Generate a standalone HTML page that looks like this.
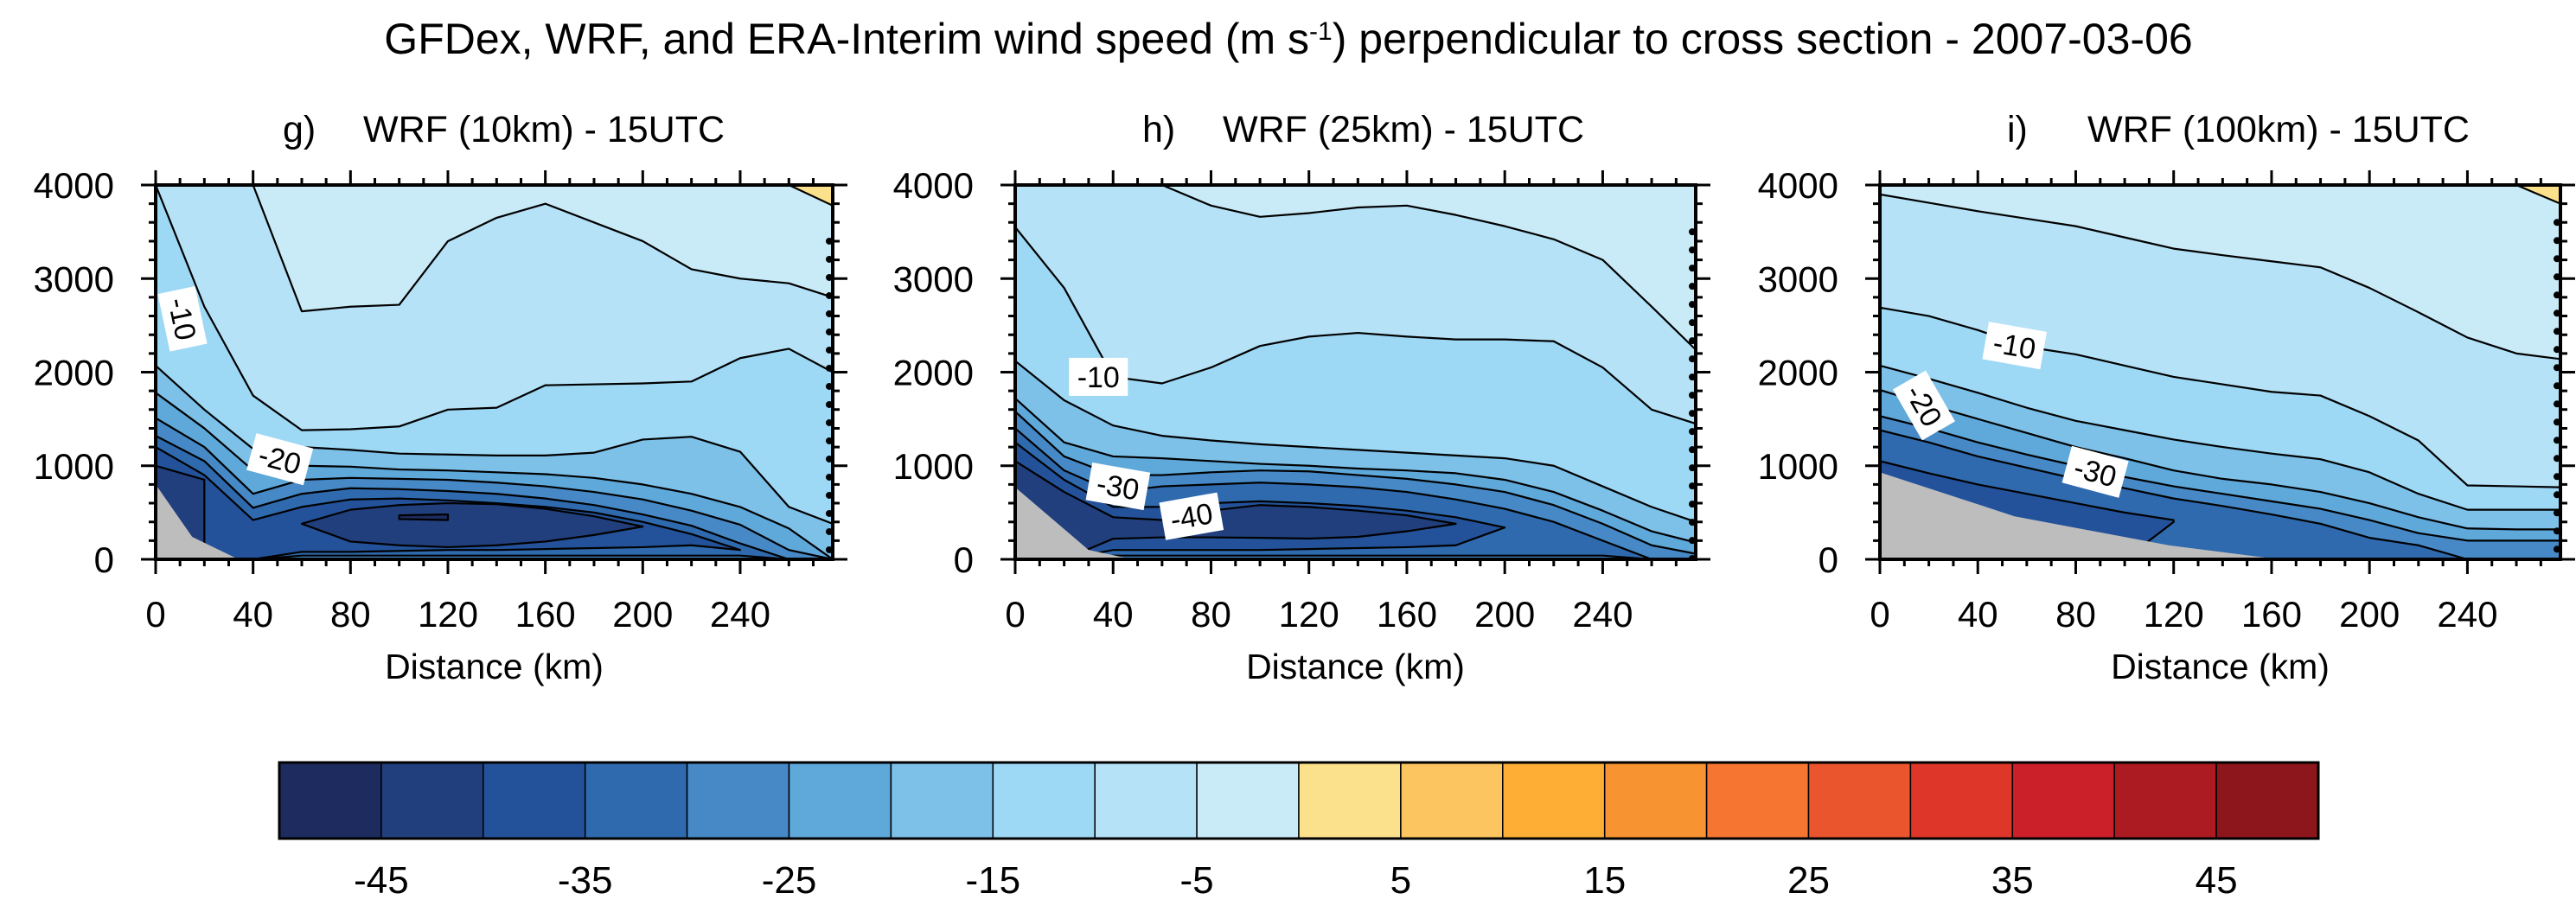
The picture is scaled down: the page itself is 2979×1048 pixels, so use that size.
<!DOCTYPE html>
<html><head><meta charset="utf-8">
<style>
html,body{margin:0;padding:0;background:#fff;}
svg{display:block;font-family:"Liberation Sans",Arial,sans-serif;}
</style></head>
<body>
<svg id="fig" width="2979" height="1048" viewBox="0 0 2979 1048" xmlns="http://www.w3.org/2000/svg">
<text x="1490" y="62" font-size="50" text-anchor="middle">GFDex, WRF, and ERA-Interim wind speed (m s<tspan baseline-shift="super" font-size="30">-1</tspan>) perpendicular to cross section - 2007-03-06</text>
<g id="panels"></g>
<g id="colorbar"></g>
</svg>
<script>
const xs=[0,20,40,60,80,100,120,140,160,180,200,220,240,260,280];
const binColors=['#1d2b5f','#213f7d','#23529a','#2f6aae','#4689c6','#5ea8da','#7dc0e8','#9dd8f5','#b5e2f7','#c9ebf7','#fce18c','#fdc55f','#feae35','#f89331','#f57531','#ea552d','#de3629','#cb1f2a','#ad1b22','#8c161b'];
const cbLabels=[-45,-35,-25,-15,-5,5,15,25,35,45];
const xTicks=[0,40,80,120,160,200,240];
const yTicks=[0,1000,2000,3000,4000];

// panel g (WRF 10km)
const g_m5_up=[4000,4000,4000,2650,2700,2720,3400,3650,3800,3600,3400,3100,3000,2950,2800];
const g_m10_up=[4000,2700,1750,1380,1390,1420,1600,1620,1860,1870,1880,1900,2150,2250,2000];
const g_m15_up=[2070,1600,1180,1200,1170,1130,1120,1110,1110,1140,1280,1310,1150,560,380];
const g_m20_up=[1780,1400,950,1000,990,960,950,930,910,870,800,700,560,330,0];
const g_m25_up=[1510,1200,700,850,870,860,850,820,780,720,640,520,370,100,0];
const g_m30_up=[1320,1050,550,700,760,750,730,700,650,580,480,360,170,0,0];
const g_m30_lo=[0,0,0,40,40,40,40,40,40,40,40,40,40,0,0];
const g_m35_up=[1200,900,420,560,640,650,630,600,560,500,400,270,100,null,null];
const g_m35_lo=[0,0,0,80,80,90,100,100,110,120,130,150,100,null,null];
const g_m40_up=[1000,850,null,380,530,580,600,590,540,460,350,null,null,null,null];
const g_m40_lo=[0,0,null,380,190,150,130,150,190,260,350,null,null,null,null];
const g_m45_up=[null,null,null,null,null,470,480,null,null,null,null,null,null,null,null];
const g_m45_lo=[null,null,null,null,null,430,420,null,null,null,null,null,null,null,null];
const g_p0_up=[null,null,null,null,null,null,null,null,null,null,null,null,null,4000,4000];
const g_p0_lo=[null,null,null,null,null,null,null,null,null,null,null,null,null,4000,3780];
const g_terr_x=[0,15,34];
const g_terr_h=[800,240,0];

// panel h (WRF 25km)
const h_m5_up=[4000,4000,4000,4000,3780,3660,3700,3760,3780,3680,3560,3420,3200,2700,2240];
const h_m10_up=[3550,2900,1950,1880,2050,2280,2380,2420,2380,2350,2350,2330,2050,1600,1450];
const h_m15_up=[2120,1700,1430,1320,1270,1230,1200,1170,1140,1110,1080,1000,780,560,400];
const h_m20_up=[1720,1250,1100,1080,1050,1020,1000,970,950,920,850,720,520,300,180];
const h_m25_up=[1580,1100,900,900,930,950,940,900,860,800,720,580,380,150,60];
const h_m30_up=[1400,950,720,780,800,820,800,770,720,640,540,400,200,0,0];
const h_m30_lo=[0,0,40,40,40,40,40,40,40,40,40,40,40,0,0];
const h_m35_up=[1250,850,560,560,600,620,600,570,520,450,340,null,null,null,null];
const h_m35_lo=[0,0,100,100,100,100,110,120,130,150,340,null,null,null,null];
const h_m40_up=[1050,720,450,420,520,580,560,520,470,380,null,null,null,null,null];
const h_m40_lo=[0,0,220,235,235,230,222,240,300,380,null,null,null,null,null];
const h_terr_x=[0,30,48];
const h_terr_h=[770,100,0];

// panel i (WRF 100km)
const i_m5_up=[3900,3810,3720,3640,3560,3440,3320,3250,3185,3120,2900,2640,2370,2200,2140];
const i_m10_up=[2690,2600,2450,2270,2190,2070,1950,1870,1790,1750,1530,1270,790,780,770];
const i_m15_up=[2070,1930,1780,1620,1480,1380,1280,1200,1130,1070,930,700,530,530,530];
const i_m20_up=[1810,1650,1500,1350,1200,1080,950,860,800,720,600,450,330,320,320];
const i_m25_up=[1530,1400,1250,1120,1000,880,780,700,620,540,420,280,200,200,200];
const i_m30_up=[1380,1250,1100,980,860,760,650,570,480,380,230,150,0,0,0];
const i_m35_up=[1050,920,800,700,600,500,420,null,null,null,null,null,null,null,null];
const i_m35_lo=[0,0,0,0,0,0,400,null,null,null,null,null,null,null,null];
const i_p0_up=[null,null,null,null,null,null,null,null,null,null,null,null,null,4000,4000];
const i_p0_lo=[null,null,null,null,null,null,null,null,null,null,null,null,null,4000,3800];
const i_terr_x=[0,55,118,154,163];
const i_terr_h=[930,460,150,30,0];

const NS='http://www.w3.org/2000/svg';
const TOP=214,BOT=647,XMAX=278,YMAX=4000;
const panels=[
 {id:'g',letter:'g)',title:'WRF (10km) - 15UTC',left:180,right:963,dotTop:3400,
  levels:[[-5,g_m5_up,null],[-10,g_m10_up,null],[-15,g_m15_up,null],[-20,g_m20_up,null],[-25,g_m25_up,null],[-30,g_m30_up,g_m30_lo],[-35,g_m35_up,g_m35_lo],[-40,g_m40_up,g_m40_lo],[-45,g_m45_up,g_m45_lo],[5,g_p0_up,g_p0_lo]],
  terrX:g_terr_x,terrH:g_terr_h,
  labels:[['-10',11,2570,78],['-20',51,1070,15]]},
 {id:'h',letter:'h)',title:'WRF (25km) - 15UTC',left:1174,right:1961,dotTop:3500,
  levels:[[-5,h_m5_up,null],[-10,h_m10_up,null],[-15,h_m15_up,null],[-20,h_m20_up,null],[-25,h_m25_up,null],[-30,h_m30_up,h_m30_lo],[-35,h_m35_up,h_m35_lo],[-40,h_m40_up,h_m40_lo]],
  terrX:h_terr_x,terrH:h_terr_h,
  labels:[['-10',34,1950,0],['-30',42,780,10],['-40',72,460,-10]]},
 {id:'i',letter:'i)',title:'WRF (100km) - 15UTC',left:2174,right:2961,dotTop:3600,
  levels:[[-5,i_m5_up,null],[-10,i_m10_up,null],[-15,i_m15_up,null],[-20,i_m20_up,null],[-25,i_m25_up,null],[-30,i_m30_up,null],[-35,i_m35_up,i_m35_lo],[5,i_p0_up,i_p0_lo]],
  terrX:i_terr_x,terrH:i_terr_h,
  labels:[['-10',55,2285,10],['-20',18,1645,60],['-30',88,935,15]]}
];
function el(tag,attrs,parent){const e=document.createElementNS(NS,tag);for(const k in attrs)e.setAttribute(k,attrs[k]);if(parent)parent.appendChild(e);return e;}
function colorFor(level){const idx=level>0?10:(level-5+50)/5;return binColors[idx];}

const root=document.getElementById('panels');
panels.forEach(p=>{
  const W=p.right-p.left,H=BOT-TOP;
  const sx=km=>p.left+Math.min(km,XMAX)/XMAX*W;
  const sy=m=>BOT-m/YMAX*H;
  const g=el('g',{},root);
  
  
  const cid='clip-'+p.id;
  const defs=el('defs',{},g);
  const cp=el('clipPath',{id:cid},defs);
  el('rect',{x:p.left,y:TOP,width:W,height:H},cp);
  const plot=el('g',{'clip-path':'url(#'+cid+')'},g);
  const bg=el('rect',{x:p.left,y:TOP,width:W,height:H,fill:binColors[9]},plot);
  
  
  p.levels.forEach(([lev,up,lo])=>{
    let seg=[];
    const segs=[];
    for(let i=0;i<xs.length;i++){
      if(up[i]===null||up[i]===undefined){if(seg.length)segs.push(seg);seg=[];}
      else seg.push(i);
    }
    if(seg.length)segs.push(seg);
    segs.forEach(s=>{
      const pts=[];
      s.forEach(i=>pts.push(sx(xs[i])+','+sy(up[i])));
      for(let k=s.length-1;k>=0;k--){const i=s[k];pts.push(sx(xs[i])+','+sy(lo?lo[i]:0));}
      const poly=el('polygon',{points:pts.join(' '),fill:colorFor(lev),stroke:'#000','stroke-width':2.2,'stroke-linejoin':'round'},plot);
      
      
    });
  });
  const tp=p.terrX.map((x,i)=>sx(x)+','+sy(p.terrH[i]));
  tp.push(sx(p.terrX[p.terrX.length-1])+','+BOT,sx(0)+','+BOT);
  const terr=el('polygon',{points:tp.join(' '),fill:'#bdbdbd'},plot);
  
  
  p.labels.forEach(([t,km,m,rot])=>{
    const lg=el('g',{transform:`translate(${sx(km)},${sy(m)}) rotate(${rot})`},plot);
    
    
    el('rect',{x:-34,y:-22,width:68,height:44,fill:'#fff'},lg);
    const tx=el('text',{x:0,y:12,'font-size':34,'text-anchor':'middle'},lg);
    tx.textContent=t;
  });
  const dots=el('line',{x1:p.right-4,x2:p.right-4,y1:sy(p.dotTop),y2:BOT,stroke:'#000','stroke-width':8,'stroke-linecap':'round','stroke-dasharray':'0 21'},plot);
  
  
  const fr=el('rect',{x:p.left,y:TOP,width:W,height:H,fill:'none',stroke:'#000','stroke-width':4},g);
  
  
  let d='';
  for(let km=0;km<=XMAX;km+=10){const x=sx(km);const L=km%40===0?17:8;d+=`M${x},${BOT}v${L}M${x},${TOP}v${-L}`;}
  for(let m=0;m<=YMAX;m+=200){const y=sy(m);const L=m%1000===0?17:8;d+=`M${p.left},${y}h${-L}M${p.right},${y}h${L}`;}
  const tk=el('path',{d:d,stroke:'#000','stroke-width':3,fill:'none'},g);
  
  
  xTicks.forEach(v=>{
    const t=el('text',{x:sx(v),y:725,'font-size':42,'text-anchor':'middle'},g);
    
    
    t.textContent=v;
  });
  yTicks.forEach(v=>{
    const t=el('text',{x:p.left-48,y:sy(v)+15,'font-size':42,'text-anchor':'end'},g);
    
    
    t.textContent=v;
  });
  const xt=el('text',{x:(p.left+p.right)/2,y:785,'font-size':41,'text-anchor':'middle'},g);
  
  
  xt.textContent='Distance (km)';
  const st=el('text',{x:p.left+147,y:164,'font-size':43},g);
  
  
  st.textContent=p.letter;
  const st2=el('text',{x:p.left+240,y:164,'font-size':43},g);
  
  
  st2.textContent=p.title;
});

const cb=document.getElementById('colorbar');
const CBL=323,CBR=2681,CBT=882,CBB=970;
const bw=(CBR-CBL)/binColors.length;
binColors.forEach((c,i)=>{
  const r=el('rect',{x:CBL+i*bw,y:CBT,width:bw,height:CBB-CBT,fill:c,stroke:'#000','stroke-width':1.5},cb);
  
  
});
el('rect',{x:CBL,y:CBT,width:CBR-CBL,height:CBB-CBT,fill:'none',stroke:'#000','stroke-width':3},cb);
cbLabels.forEach(v=>{
  const x=CBL+(v+50)/100*(CBR-CBL);
  const t=el('text',{x:x,y:1033,'font-size':44,'text-anchor':'middle'},cb);
  
  
  t.textContent=v;
});
</script>
</body></html>
